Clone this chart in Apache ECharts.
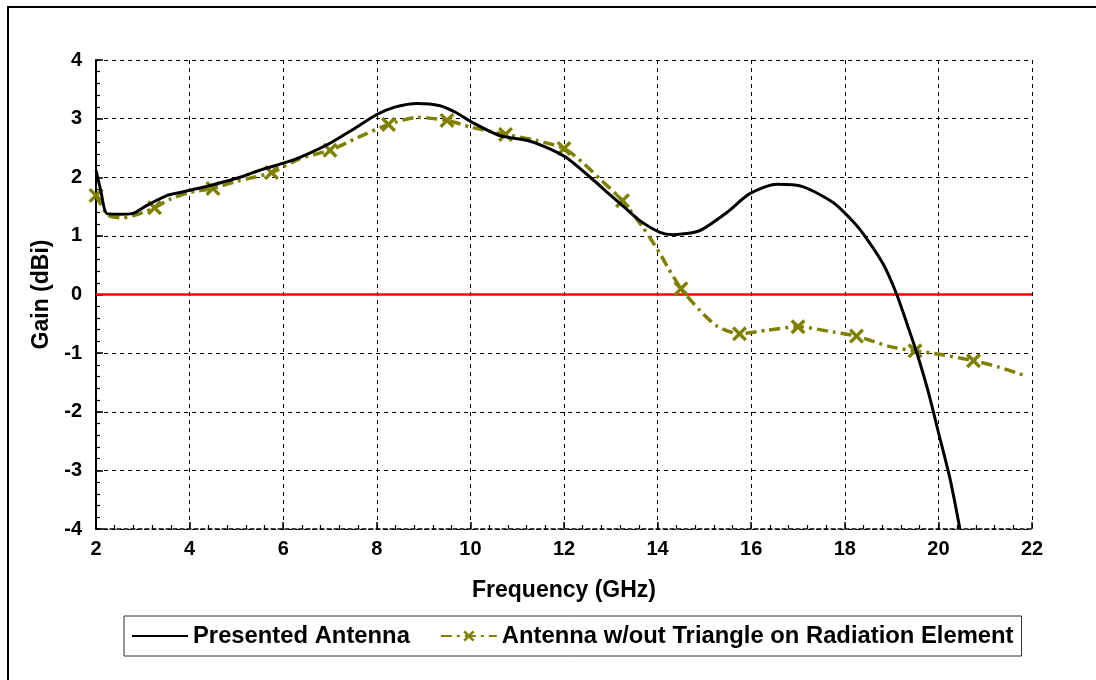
<!DOCTYPE html>
<html>
<head>
<meta charset="utf-8">
<script src="https://cdn.jsdelivr.net/npm/echarts@6/dist/echarts.min.js"></script>
<style>
html,body{margin:0;padding:0;background:#fff;}
#c{width:1096px;height:680px;}
</style>
</head>
<body>
<div id="c"></div>
<script>
// ---- data ----
const xTicks = [2, 4, 6, 8, 10, 12, 14, 16, 18, 20, 22];
const yTicks = [-4, -3, -2, -1, 0, 1, 2, 3, 4];
const seriesNames = ['Presented Antenna', 'Antenna w/out Triangle on Radiation Element'];

const blackF = [2.0, 2.1, 2.23, 2.5, 2.77, 3.09, 3.52, 3.8, 4.44, 5.08, 5.5, 6.0, 6.36, 7.0, 7.5, 8.0, 8.4, 8.86, 9.35, 9.7, 10.03, 10.63, 11.2, 11.6, 12.04, 12.56, 13.0, 13.3, 13.62, 14.05, 14.33, 14.9, 15.48, 15.97, 16.55, 17.1, 17.75, 18.11, 18.39, 18.82, 19.11, 19.35, 19.56, 19.78, 20.0, 20.25, 20.46];
const blackG = [2.12, 1.78, 1.38, 1.37, 1.38, 1.52, 1.69, 1.74, 1.86, 2.0, 2.12, 2.24, 2.34, 2.58, 2.82, 3.07, 3.2, 3.26, 3.22, 3.1, 2.94, 2.71, 2.63, 2.52, 2.34, 2.0, 1.69, 1.48, 1.26, 1.06, 1.02, 1.09, 1.40, 1.72, 1.88, 1.84, 1.57, 1.30, 1.04, 0.52, 0.0, -0.55, -1.05, -1.65, -2.35, -3.15, -4.0];

const greenF = [2.0, 2.26, 2.58, 2.94, 3.25, 3.6, 4.0, 4.5, 5.0, 5.75, 6.36, 7.0, 7.6, 8.25, 8.86, 9.5, 10.03, 10.75, 11.4, 12.0, 12.4, 12.77, 13.25, 13.69, 14.05, 14.22, 14.5, 14.9, 15.27, 15.75, 16.34, 17.0, 17.75, 18.25, 18.97, 19.5, 20.03, 20.75, 21.3, 21.8];
const greenG = [1.69, 1.35, 1.31, 1.38, 1.48, 1.63, 1.74, 1.81, 1.93, 2.08, 2.32, 2.46, 2.68, 2.90, 3.02, 2.97, 2.85, 2.73, 2.63, 2.49, 2.25, 1.97, 1.60, 1.14, 0.70, 0.46, 0.10, -0.27, -0.54, -0.67, -0.61, -0.55, -0.64, -0.71, -0.89, -0.96, -1.02, -1.13, -1.24, -1.37];
const markerF = [2, 3.25, 4.5, 5.75, 7, 8.25, 9.5, 10.75, 12, 13.25, 14.5, 15.75, 17, 18.25, 19.5, 20.75];

const zeroLineF = [2, 22];
const zeroLineG = [0, 0];

// ---- build ----
const FONT = '"Liberation Sans", Arial, sans-serif';
const xMark = 'path://M0,1.6 L1.6,0 L5,3.4 L8.4,0 L10,1.6 L6.6,5 L10,8.4 L8.4,10 L5,6.6 L1.6,10 L0,8.4 L3.4,5 Z';

const blackData = blackF.map((f, i) => [f, blackG[i]]);
const greenData = greenF.map((f, i) => {
  const isM = markerF.some(m => Math.abs(m - f) < 1e-6);
  return isM ? {value: [f, greenG[i]]} : {value: [f, greenG[i]], symbol: 'none'};
});
const zeroData = zeroLineF.map((f, i) => [f, zeroLineG[i]]);

const chart = echarts.init(document.getElementById('c'), null, {renderer: 'canvas'});
chart.setOption({
  backgroundColor: '#fff',
  animation: false,
  graphic: [{
    type: 'rect', shape: {x: 8, y: 7, width: 1200, height: 800},
    style: {fill: 'none', stroke: '#000', lineWidth: 2}, z: 100
  }],
  grid: {left: 96, top: 60, right: 64, bottom: 151, containLabel: false},
  legend: {
    data: [
      {name: seriesNames[0], itemStyle: {opacity: 0}},
      {name: seriesNames[1]}
    ],
    left: 124, top: 616,
    padding: [8, 8, 8, 7],
    borderColor: '#333', borderWidth: 1,
    itemWidth: 56, itemHeight: 14, itemGap: 30,
    textStyle: {fontFamily: FONT, fontWeight: 'bold', fontSize: 23.8, color: '#000'}
  },
  xAxis: {
    type: 'value', min: 2, max: 22, interval: 2,
    name: 'Frequency (GHz)', nameLocation: 'middle', nameGap: 50,
    nameTextStyle: {fontFamily: FONT, fontWeight: 'bold', fontSize: 23, color: '#000'},
    axisLine: {show: true, onZero: false, lineStyle: {color: '#000', width: 1.5, type: [4, 3]}},
    axisTick: {show: true, inside: true, length: 7, lineStyle: {color: '#000', width: 1.5}},
    minorTick: {show: true, splitNumber: 5, length: 4, lineStyle: {color: '#000', width: 1.2}},
    axisLabel: {margin: 10, fontFamily: FONT, fontWeight: 'bold', fontSize: 20, color: '#000',
      formatter: v => xTicks.includes(v) ? String(v) : ''},
    splitLine: {show: true, lineStyle: {color: '#000', width: 1, type: [4, 4]}}
  },
  yAxis: {
    type: 'value', min: -4, max: 4, interval: 1,
    name: 'Gain (dBi)', nameLocation: 'middle', nameGap: 42,
    nameTextStyle: {fontFamily: FONT, fontWeight: 'bold', fontSize: 23, color: '#000'},
    axisLine: {show: true, onZero: false, lineStyle: {color: '#000', width: 2}},
    axisTick: {show: true, inside: true, length: 7, lineStyle: {color: '#000', width: 1.5}},
    minorTick: {show: true, splitNumber: 5, length: 4, lineStyle: {color: '#000', width: 1.2}},
    axisLabel: {margin: 14, fontFamily: FONT, fontWeight: 'bold', fontSize: 20, color: '#000',
      formatter: v => yTicks.includes(v) ? String(v) : ''},
    splitLine: {show: true, lineStyle: {color: '#000', width: 1, type: [4, 4]}}
  },
  series: [
    {
      name: 'zero', type: 'line', data: zeroData, symbol: 'none', silent: true,
      lineStyle: {color: '#ff0000', width: 2.5}, z: 1
    },
    {
      name: seriesNames[0], type: 'line', data: blackData, symbol: 'none', smooth: 0.25,
      lineStyle: {color: '#000', width: 3}, itemStyle: {color: '#000'}, z: 3
    },
    {
      name: seriesNames[1], type: 'line', data: greenData, symbol: xMark, symbolSize: 15,
      showSymbol: true, smooth: 0.25,
      lineStyle: {color: '#808000', width: 3.5, type: [11, 5, 3, 5]},
      itemStyle: {color: '#808000'}, z: 2
    }
  ]
});
</script>
</body>
</html>
